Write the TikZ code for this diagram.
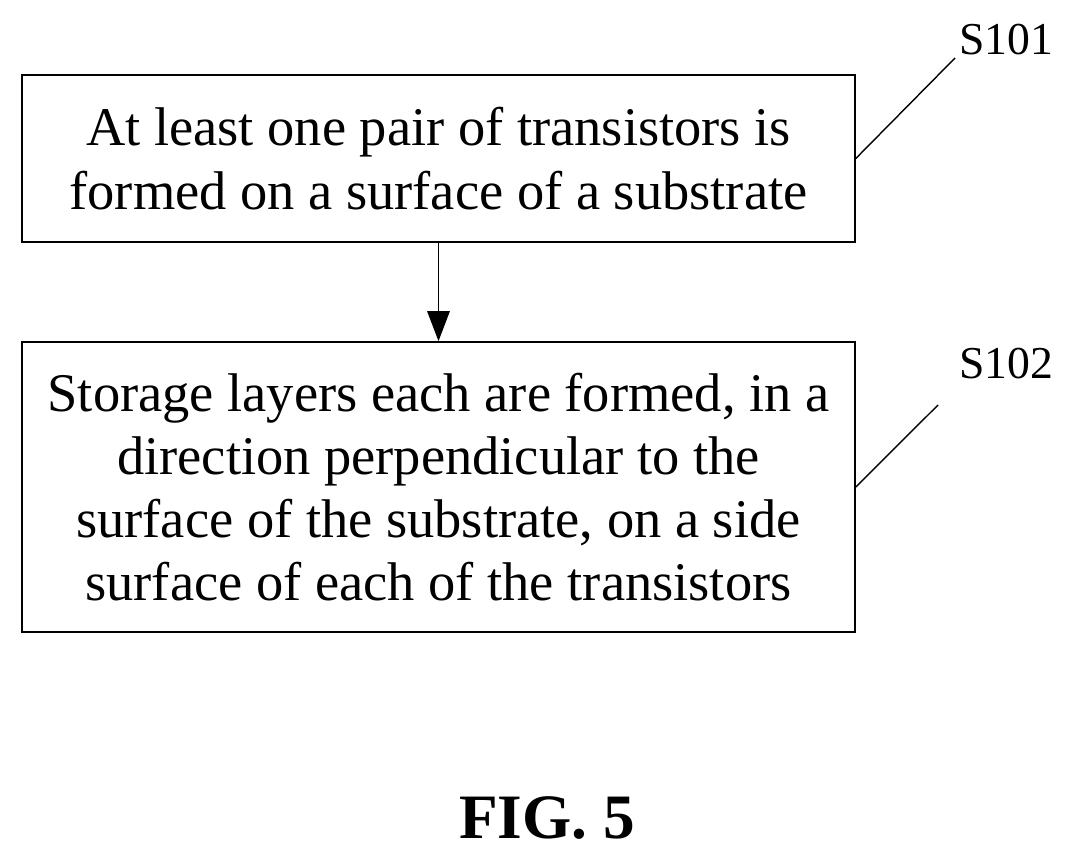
\documentclass[tikz,border=0pt]{standalone}
\usepackage{fontspec}
\setmainfont{Liberation Serif}
\usetikzlibrary{arrows.meta,positioning}
\begin{document}
\begin{tikzpicture}[x=0.02cm,y=-0.02cm,
    stepbox/.style={draw, line width=1pt, align=center, minimum width=16.66cm,
        font=\fontsize{31}{36}\selectfont, inner sep=0pt},
    arrow/.style={-{Triangle[length=6mm, width=4.5mm]}, line width=0.8pt},
    leader/.style={line width=0.8pt}
]
    \useasboundingbox (0,0) rectangle (1074,852);
    % steps
    \node[stepbox, minimum height=3.34cm] (s1) at (438.5,158.5)
        {At least one pair of transistors is\\formed on a surface of a substrate};
    \node[stepbox, minimum height=5.8cm] (s2) at (438.5,487)
        {Storage layers each are formed, in a\\direction perpendicular to the\\surface of the substrate, on a side\\surface of each of the transistors};
    \draw[arrow] (s1.south) -- (s2.north);
    % labels
    \node[font=\fontsize{26}{28}\selectfont] (l1) at (1006,40) {S101};
    \node[font=\fontsize{26}{28}\selectfont] (l2) at (1006,364) {S102};
    \coordinate (c1) at (955,58);
    \coordinate (c2) at (938,405);
    \draw[leader] (s1.east) -- (c1);
    \draw[leader] (s2.east) -- (c2);
    \node[font=\fontsize{36}{38}\selectfont\bfseries] (fig) at (547,818) {FIG. 5};
\end{tikzpicture}
\end{document}
